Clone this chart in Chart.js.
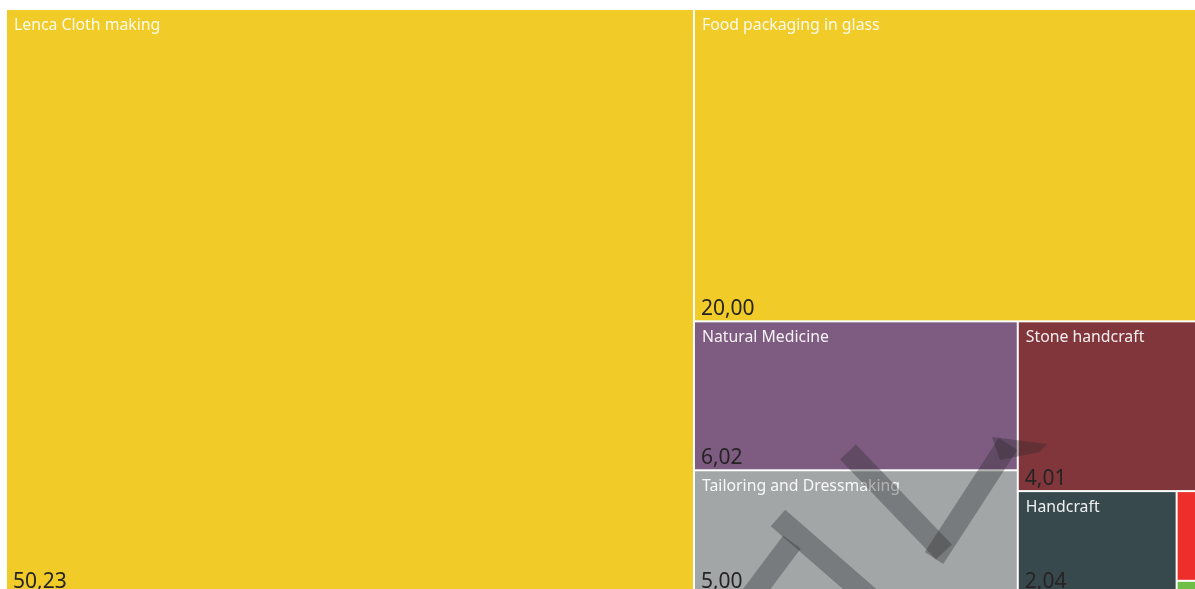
<!DOCTYPE html>
<html>
<head>
<meta charset="utf-8">
<script src="https://cdn.jsdelivr.net/npm/chart.js@4.4.1/dist/chart.umd.min.js"></script>
<style>
  html, body { margin: 0; padding: 0; background: #ffffff; overflow: hidden; width: 1195px; height: 589px; }
  #wrap { position: absolute; left: 0; top: 0; width: 1215px; height: 600px; }
</style>
</head>
<body>
<div id="wrap"><canvas id="c" width="1215" height="600"></canvas></div>
<script>
// ---- data ----
const categories = [
  "Lenca Cloth making",
  "Food packaging in glass",
  "Natural Medicine",
  "Tailoring and Dressmaking",
  "Stone handcraft",
  "Handcraft",
  "Other A",
  "Other B"
];
const values = [50.23, 20.00, 6.02, 5.00, 4.01, 2.04, 0.34, 0.05];
const valueLabels = ["50,23", "20,00", "6,02", "5,00", "4,01", "2,04", "", ""];

// ---- styles ----
const tileColors = ["#F1CB27", "#F1CB27", "#7E5B80", "#A2A6A7", "#81363B", "#38494D", "#EE2E2A", "#6EBE48"];
const squarifyRatio = 1.37;

function squarify(vals, x0, y0, x1, y1) {
  const nodes = vals.map((v, i) => ({ v, i }));
  const n = nodes.length;
  const out = [];
  let value = vals.reduce((a, b) => a + b, 0);
  let i0 = 0, i1 = 0;
  while (i0 < n) {
    const dx = x1 - x0, dy = y1 - y0;
    let sumValue = nodes[i1++].v;
    let minV = sumValue, maxV = sumValue;
    const alpha = Math.max(dy / dx, dx / dy) / (value * squarifyRatio);
    let beta = sumValue * sumValue * alpha;
    let minRatio = Math.max(maxV / beta, beta / minV);
    for (; i1 < n; ++i1) {
      const nv = nodes[i1].v;
      sumValue += nv;
      if (nv < minV) minV = nv;
      if (nv > maxV) maxV = nv;
      beta = sumValue * sumValue * alpha;
      const newRatio = Math.max(maxV / beta, beta / minV);
      if (newRatio > minRatio) { sumValue -= nv; break; }
      minRatio = newRatio;
    }
    const row = nodes.slice(i0, i1);
    if (dx < dy) {
      const h = dy * sumValue / value;
      let x = x0;
      row.forEach(nd => { const w = dx * nd.v / sumValue; out[nd.i] = { x0: x, y0: y0, x1: x + w, y1: y0 + h }; x += w; });
      y0 += h;
    } else {
      const w = dx * sumValue / value;
      let y = y0;
      row.forEach(nd => { const h = dy * nd.v / sumValue; out[nd.i] = { x0: x0, y0: y, x1: x0 + w, y1: y + h }; y += h; });
      x0 += w;
    }
    value -= sumValue;
    i0 = i1;
  }
  return out;
}

const treemapPlugin = {
  id: 'treemapTiles',
  beforeDatasetsDraw(chart) {
    const ctx = chart.ctx;
    const xs = chart.scales.x, ys = chart.scales.y;
    const left = xs.getPixelForValue(0), right = xs.getPixelForValue(1);
    const top = ys.getPixelForValue(1), bottom = ys.getPixelForValue(0);
    const rects = squarify(values, left, top, right, bottom);
    ctx.save();
    rects.forEach((r, i) => {
      const x = r.x0 + 1, y = r.y0 + 1, w = r.x1 - r.x0 - 2, h = r.y1 - r.y0 - 2;
      ctx.fillStyle = tileColors[i];
      ctx.fillRect(x, y, w, h);
      if (w > 40 && h > 40) {
        ctx.save();
        ctx.beginPath();
        ctx.rect(x, y, w, h);
        ctx.clip();
        ctx.textAlign = 'left';
        ctx.textBaseline = 'alphabetic';
        ctx.fillStyle = 'rgba(255,255,255,0.92)';
        ctx.font = '15.8px "Noto Sans", "Open Sans", sans-serif';
        ctx.fillText(categories[i], x + 7, y + 19.5);
        ctx.fillStyle = '#252423';
        ctx.font = '21px "Noto Sans", "Open Sans", sans-serif';
        ctx.fillText(valueLabels[i], x + 6, y + h - 5);
        ctx.restore();
      }
    });
    ctx.restore();
  },
  afterDraw(chart) {
    // faint watermark strokes
    const ctx = chart.ctx;
    ctx.save();
    ctx.strokeStyle = 'rgba(40,40,45,0.34)';
    ctx.fillStyle = 'rgba(40,40,45,0.34)';
    ctx.lineWidth = 22;
    ctx.lineCap = 'butt';
    const strokes = [
      [[750, 598], [792, 542]],
      [[778, 518], [870, 598]],
      [[848, 452], [944, 552]],
      [[934, 558], [1008, 444]]
    ];
    strokes.forEach(s => {
      ctx.beginPath();
      ctx.moveTo(s[0][0], s[0][1]);
      ctx.lineTo(s[1][0], s[1][1]);
      ctx.stroke();
    });
    // top wedge
    ctx.beginPath();
    ctx.moveTo(992, 437);
    ctx.lineTo(1047, 444);
    ctx.lineTo(1040, 452);
    ctx.lineTo(1000, 460);
    ctx.closePath();
    ctx.fill();
    ctx.restore();
  }
};

new Chart(document.getElementById('c'), {
  type: 'scatter',
  data: { datasets: [{ label: 'tiles', data: [], pointRadius: 0 }] },
  options: {
    responsive: false,
    animation: false,
    layout: { padding: { left: 6, top: 9, right: 8, bottom: 6 } },
    plugins: { legend: { display: false }, tooltip: { enabled: false }, title: { display: false } },
    scales: {
      x: { type: 'linear', min: 0, max: 1, display: false },
      y: { type: 'linear', min: 0, max: 1, display: false }
    }
  },
  plugins: [treemapPlugin]
});
</script>
</body>
</html>
